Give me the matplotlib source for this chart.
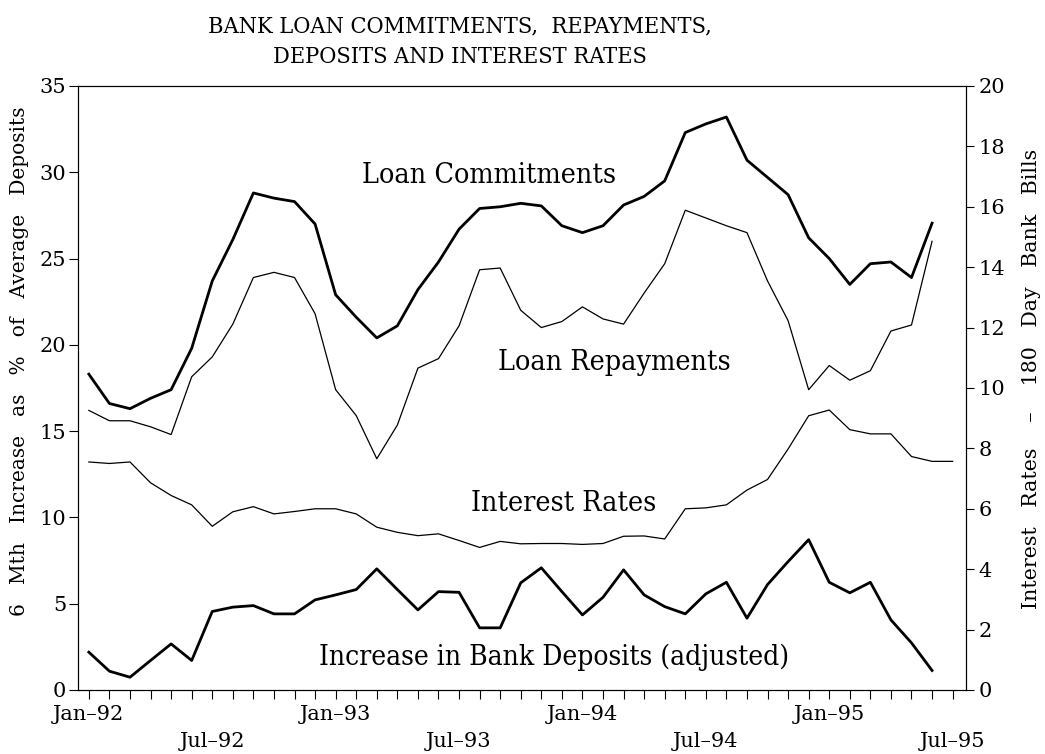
import numpy as np
import matplotlib
matplotlib.use("Agg")
import matplotlib.pyplot as plt

# monthly, Jan-92 .. Jun-95 (Interest rates run to Jul-95)
commitments = [18.3, 16.6, 16.3, 16.9, 17.4, 19.8, 23.7, 26.1, 28.8, 28.5,
               28.3, 27.0, 22.9, 21.6, 20.4, 21.1, 23.2, 24.8, 26.7, 27.9,
               28.0, 28.2, 28.05, 26.9, 26.5, 26.9, 28.1, 28.6, 29.5, 32.3,
               32.8, 33.2, 30.7, 29.7, 28.7, 26.2, 25.0, 23.5, 24.7, 24.8,
               23.9, 27.05]
repayments = [16.2, 15.6, 15.6, 15.25, 14.8, 18.15, 19.3, 21.2, 23.9, 24.2,
              23.9, 21.8, 17.4, 15.9, 13.4, 15.35, 18.65, 19.2, 21.1, 24.35,
              24.45, 22.0, 21.0, 21.35, 22.2, 21.5, 21.2, 23.0, 24.7, 27.8,
              27.35, 26.9, 26.5, 23.7, 21.4, 17.4, 18.8, 17.95, 18.5, 20.8,
              21.15, 26.0]
interest = [7.55, 7.5, 7.55, 6.86, 6.44, 6.13, 5.42, 5.9, 6.07, 5.83,
            5.91, 6.0, 6.0, 5.83, 5.39, 5.22, 5.11, 5.17, 4.95, 4.72,
            4.92, 4.84, 4.85, 4.85, 4.82, 4.85, 5.09, 5.1, 5.0, 6.0,
            6.03, 6.13, 6.62, 6.97, 7.98, 9.08, 9.27, 8.62, 8.48, 8.48,
            7.73, 7.57, 7.57]
deposits = [2.19, 1.09, 0.74, 1.71, 2.67, 1.71, 4.55, 4.8, 4.89, 4.41,
            4.41, 5.22, 5.51, 5.82, 7.02, 5.82, 4.64, 5.7, 5.66, 3.6,
            3.6, 6.21, 7.08, 5.7, 4.35, 5.37, 6.96, 5.51, 4.83, 4.41,
            5.57, 6.24, 4.16, 6.11, 7.44, 8.71, 6.24, 5.63, 6.24, 4.06,
            2.73, 1.13]

months = ['Jan', 'Feb', 'Mar', 'Apr', 'May', 'Jun',
          'Jul', 'Aug', 'Sep', 'Oct', 'Nov', 'Dec']
years = ['92', '93', '94', '95']

labels = []
for y in years:
    for m in months:
        if m == 'Jan':
            labels.append('Jan\u2013' + y)
        elif m == 'Jul':
            labels.append('\nJul\u2013' + y)
        else:
            labels.append('')
labels = labels[:43]

plt.rcParams['font.family'] = 'DejaVu Serif'

fig = plt.figure(figsize=(10.45, 7.54), dpi=100)
ax = fig.add_axes([0.0746, 0.0849, 0.8498, 0.8011])
ax2 = ax.twinx()

x = np.arange(len(interest))
ax.plot(x[:len(commitments)], commitments, color='black', lw=2.0)
ax.plot(x[:len(repayments)], repayments, color='black', lw=0.9)
ax.plot(x[:len(deposits)], deposits, color='black', lw=2.0)
ax2.plot(x, interest, color='black', lw=0.9)

ax.set_xlim(-0.53, 42.65)
ax.set_ylim(0, 35)
ax2.set_ylim(0, 20)
ax.set_yticks(np.arange(0, 36, 5))
ax2.set_yticks(np.arange(0, 21, 2))
ax.set_xticks(x)
ax.set_xticklabels(labels, fontsize=15, linespacing=1.55)

ax.tick_params(axis='both', direction='out', length=6.5, width=0.8, labelsize=15)
ax2.tick_params(axis='y', direction='out', length=6, width=0.8, labelsize=15, pad=3)
ax.tick_params(axis='x', pad=4)
ax.tick_params(axis='y', pad=2)

for a in (ax, ax2):
    for s in a.spines.values():
        s.set_linewidth(0.8)

fig.text(0.019, 0.521, '6   Mth   Increase   as   %   of   Average   Deposits',
         rotation=90, fontsize=14.5, ha='center', va='center')
fig.text(0.9875, 0.497, 'Interest   Rates    \u2013    180   Day   Bank   Bills',
         rotation=90, fontsize=14.8, ha='center', va='center')

tsize = 20.5
ax.text(13.26, 29.8, 'Loan Commitments', fontsize=tsize, va='center',
        fontstretch='condensed')
ax.text(19.9, 18.96, 'Loan Repayments', fontsize=tsize, va='center',
        fontstretch='condensed')
ax.text(18.57, 10.8, 'Interest Rates', fontsize=tsize, va='center',
        fontstretch='condensed')
ax.text(11.17, 1.88, 'Increase in Bank Deposits (adjusted)', fontsize=tsize - 0.3,
        va='center', fontstretch='condensed')

fig.text(0.44, 0.979, 'BANK LOAN COMMITMENTS,  REPAYMENTS,\nDEPOSITS AND INTEREST RATES',
         ha='center', va='top', fontsize=16.8, linespacing=1.5,
         fontstretch='condensed')

fig.savefig('out.png', dpi=100)
